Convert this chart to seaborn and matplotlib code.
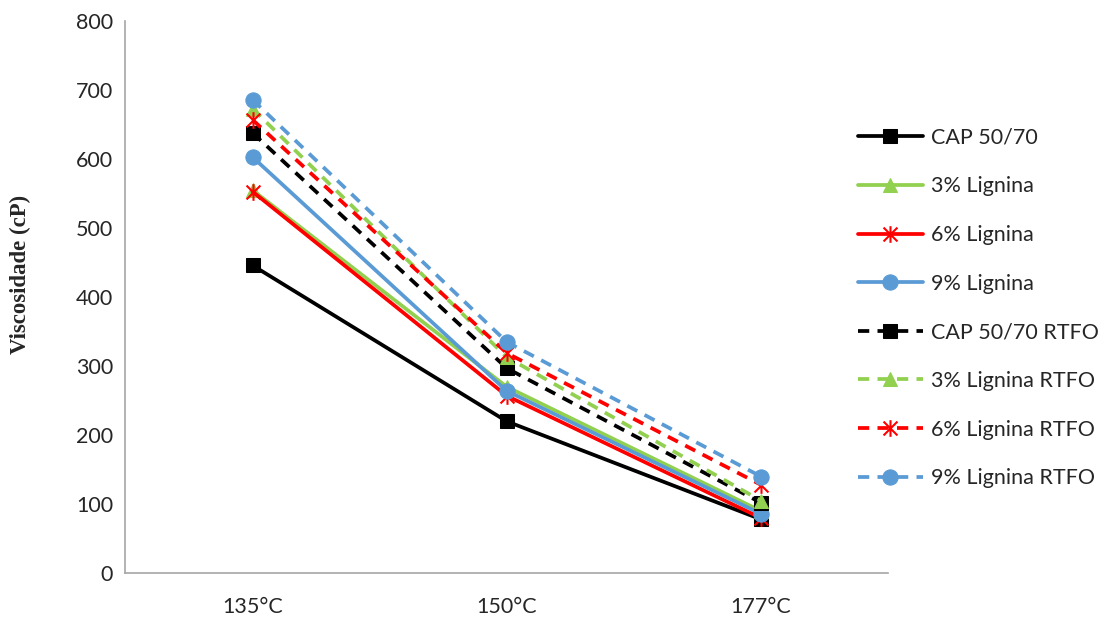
import pandas as pd
import numpy as np
import matplotlib.pyplot as plt
from matplotlib.path import Path
import seaborn as sns

sns.set_style("white")
plt.rcParams["font.family"] = ["Lato", "DejaVu Sans"]

# dados
temperaturas = ["135°C", "150°C", "177°C"]
series = ["CAP 50/70", "3% Lignina", "6% Lignina", "9% Lignina",
          "CAP 50/70 RTFO", "3% Lignina RTFO", "6% Lignina RTFO", "9% Lignina RTFO"]
cap = [446, 220, 78]
lig3 = [555, 270, 90]
lig6 = [553, 257, 80]
lig9 = [603, 264, 86]
cap_rtfo = [638, 297, 102]
lig3_rtfo = [673, 313, 105]
lig6_rtfo = [657, 319, 128]
lig9_rtfo = [686, 335, 140]
valores = [cap, lig3, lig6, lig9, cap_rtfo, lig3_rtfo, lig6_rtfo, lig9_rtfo]

df = pd.DataFrame({
    "Temperatura": temperaturas * len(series),
    "Serie": np.repeat(series, len(temperaturas)),
    "Viscosidade": np.concatenate(valores),
})

# marcador asterisco estilo Excel
asterisco = Path([(-1, -1), (1, 1), (-1, 1), (1, -1), (0, -1.2), (0, 1.2)],
                 [Path.MOVETO, Path.LINETO, Path.MOVETO, Path.LINETO, Path.MOVETO, Path.LINETO])

cores = ["black", "#92d050", "#ff0000", "#5b9bd5"] * 2
marcadores = ["s", "^", asterisco, "o"] * 2
tamanhos = [10, 10, 12, 11] * 2
estilos = ["-"] * 4 + ["--"] * 4

fig, ax = plt.subplots(figsize=(11.2, 6.21), dpi=100)
for i, nome in enumerate(series):
    sub = df[df["Serie"] == nome]
    kw = dict(markerfacecolor=cores[i], markeredgecolor=cores[i])
    if i % 4 == 2:
        kw = dict(markerfacecolor="none", markeredgecolor=cores[i], markeredgewidth=1.5)
    sns.lineplot(data=sub, x="Temperatura", y="Viscosidade", ax=ax, label=nome,
                 color=cores[i], linewidth=2.7, linestyle=estilos[i],
                 marker=marcadores[i], markersize=tamanhos[i],
                 dashes=False, sort=False, **kw)
    ax.lines[-1].set_linestyle(estilos[i])
    if estilos[i] == "--":
        ax.lines[-1].set_dashes([3, 2.2])

ax.set_xlim(-0.5, 2.5)
ax.set_ylim(0, 800)
ax.set_yticks(range(0, 801, 100))
ax.set_xlabel("")
ax.set_ylabel("")
fig.text(20 / 1120, 1 - 274 / 621, "Viscosidade (cP)", family=["Liberation Serif"],
         fontweight="bold", fontsize=16.5, rotation=90, ha="center", va="center")
ax.tick_params(axis="both", labelsize=15.5, length=0)
ax.tick_params(axis="x", pad=17)
ax.tick_params(axis="y", pad=9)
for s in ["top", "right"]:
    ax.spines[s].set_visible(False)
for s in ["left", "bottom"]:
    ax.spines[s].set_color("#a6a6a6")
    ax.spines[s].set_linewidth(1.2)

leg = ax.legend(loc="center left", bbox_to_anchor=(858 / 1120, 1 - 308 / 621),
                bbox_transform=fig.transFigure, frameon=False, borderpad=0,
                borderaxespad=0, fontsize=15.5, handlelength=3.0,
                labelspacing=1.33, handletextpad=0.4)

fig.subplots_adjust(left=0.112, right=0.793, top=0.966, bottom=0.077)
fig.savefig("out.png", dpi=100)
